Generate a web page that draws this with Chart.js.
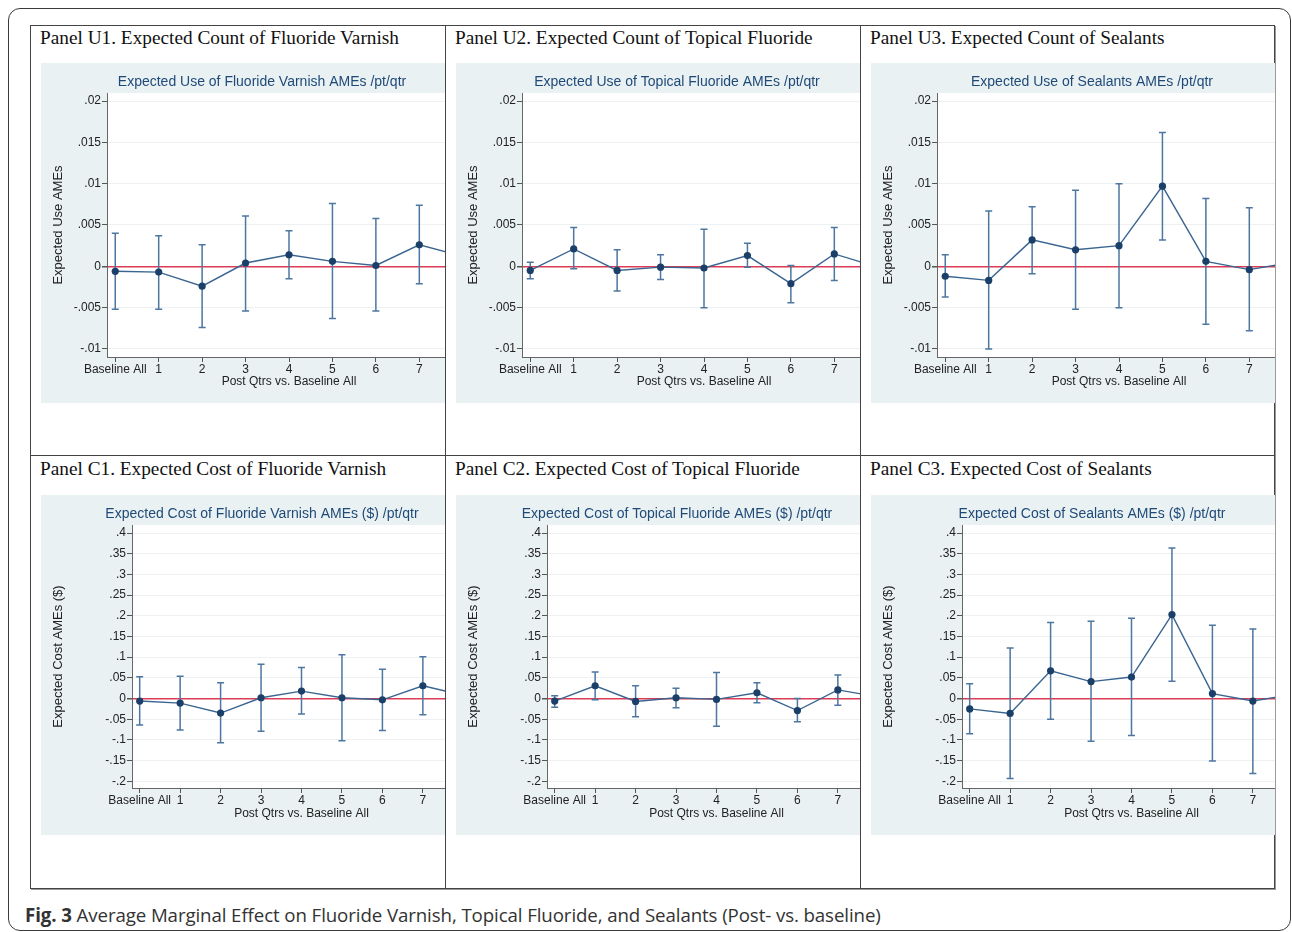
<!DOCTYPE html>
<html>
<head>
<meta charset="UTF-8">
<title>Fig. 3 Average Marginal Effect</title>
<script src="https://cdn.jsdelivr.net/npm/chart.js"></script>
<style>
  body { margin: 0; background: #fff; width: 1292px; height: 932px; overflow: hidden; position: relative; }
  .frame { position: absolute; left: 8px; top: 8px; width: 1283px; height: 923px; border: 1.5px solid #3a3a3a; border-radius: 12px; box-sizing: border-box; }
  .grid { position: absolute; left: 30px; top: 25px; width: 1245px; height: 864px; border: 1px solid #444; box-sizing: border-box; box-shadow: 1px 1px 0 #9a9a9a; }
  .vline { position: absolute; top: 25px; width: 1px; height: 864px; background: #444; }
  .hline { position: absolute; left: 30px; top: 455px; width: 1245px; height: 1px; background: #444; }
  .cell { position: absolute; overflow: hidden; width: 414px; }
  .cell h3 { position: absolute; left: 9px; top: 1px; margin: 0; font: normal 19.3px/22px "Liberation Serif", "Times New Roman", serif; color: #111; white-space: nowrap; }
  .cell canvas { position: absolute; left: 10px; }
  .caption { position: absolute; left: 25px; top: 903px; font: 18.7px/24px "Open Sans", sans-serif; color: #333; white-space: nowrap; letter-spacing: -0.1px; }
</style>
</head>
<body>
<div class="frame"></div>
<div class="grid"></div>
<div class="vline" style="left:445px"></div>
<div class="vline" style="left:860px"></div>
<div class="hline"></div>

<div class="cell" style="left:31px;top:26px;height:429px"><h3>Panel U1. Expected Count of Fluoride Varnish</h3><canvas id="u1" width="442" height="340" style="top:37px"></canvas></div>
<div class="cell" style="left:446px;top:26px;height:429px"><h3>Panel U2. Expected Count of Topical Fluoride</h3><canvas id="u2" width="442" height="340" style="top:37px"></canvas></div>
<div class="cell" style="left:861px;top:26px;height:429px"><h3>Panel U3. Expected Count of Sealants</h3><canvas id="u3" width="442" height="340" style="top:37px"></canvas></div>
<div class="cell" style="left:31px;top:457px;height:431px"><h3>Panel C1. Expected Cost of Fluoride Varnish</h3><canvas id="c1" width="442" height="340" style="top:38px"></canvas></div>
<div class="cell" style="left:446px;top:457px;height:431px"><h3>Panel C2. Expected Cost of Topical Fluoride</h3><canvas id="c2" width="442" height="340" style="top:38px"></canvas></div>
<div class="cell" style="left:861px;top:457px;height:431px"><h3>Panel C3. Expected Cost of Sealants</h3><canvas id="c3" width="442" height="340" style="top:38px"></canvas></div>

<div class="caption"><b>Fig. 3</b> Average Marginal Effect on Fluoride Varnish, Topical Fluoride, and Sealants (Post- vs. baseline)</div>

<script>
// x positions: Baseline All = 0, post quarters 1..8 (8 is cut off by the panel edge)
const xLabels = ['Baseline All', '1', '2', '3', '4', '5', '6', '7', '8'];
const useTicks = [-0.01, -0.005, 0, 0.005, 0.01, 0.015, 0.02];
const costTicks = [-0.2, -0.15, -0.1, -0.05, 0, 0.05, 0.1, 0.15, 0.2, 0.25, 0.3, 0.35, 0.4];

// expected use AMEs
const u1Est = [-0.0006, -0.0007, -0.0024, 0.0004, 0.0014, 0.0006, 0.0001, 0.0026, 0.0012];
const u1Lo  = [-0.0052, -0.0052, -0.0074, -0.0054, -0.0015, -0.0063, -0.0054, -0.0021, null];
const u1Hi  = [0.0040, 0.0037, 0.0026, 0.0061, 0.0043, 0.0076, 0.0058, 0.0074, null];

const u2Est = [-0.0005, 0.0021, -0.0005, -0.0001, -0.0002, 0.0013, -0.0021, 0.0015, -0.0001];
const u2Lo  = [-0.0015, -0.0003, -0.0030, -0.0016, -0.0050, -0.0001, -0.0044, -0.0017, null];
const u2Hi  = [0.0005, 0.0047, 0.0020, 0.0014, 0.0045, 0.0028, 0.0001, 0.0047, null];

const u3Est = [-0.0012, -0.0017, 0.0032, 0.0020, 0.0025, 0.0097, 0.0006, -0.0004, 0.0005];
const u3Lo  = [-0.0037, -0.0100, -0.0009, -0.0052, -0.0050, 0.0032, -0.0070, -0.0078, null];
const u3Hi  = [0.0014, 0.0067, 0.0072, 0.0092, 0.0100, 0.0162, 0.0082, 0.0071, null];

// expected cost AMEs ($)
const c1Est = [-0.006, -0.011, -0.035, 0.002, 0.018, 0.002, -0.003, 0.031, 0.008];
const c1Lo  = [-0.064, -0.076, -0.107, -0.079, -0.037, -0.102, -0.077, -0.039, null];
const c1Hi  = [0.053, 0.054, 0.038, 0.083, 0.075, 0.106, 0.071, 0.101, null];

const c2Est = [-0.006, 0.031, -0.007, 0.002, -0.002, 0.014, -0.029, 0.021, 0.004];
const c2Lo  = [-0.021, -0.003, -0.044, -0.022, -0.067, -0.010, -0.056, -0.016, null];
const c2Hi  = [0.007, 0.064, 0.031, 0.025, 0.063, 0.038, 0.000, 0.057, null];

const c3Est = [-0.025, -0.036, 0.067, 0.041, 0.052, 0.203, 0.012, -0.006, 0.010];
const c3Lo  = [-0.085, -0.193, -0.050, -0.103, -0.089, 0.042, -0.151, -0.181, null];
const c3Hi  = [0.036, 0.122, 0.184, 0.187, 0.194, 0.364, 0.177, 0.168, null];

const panels = [
  { id: 'u1', title: 'Expected Use of Fluoride Varnish AMEs /pt/qtr', yTitle: 'Expected Use AMEs', est: u1Est, lo: u1Lo, hi: u1Hi, ticks: useTicks, min: -0.01097, max: 0.02097, axisW: 54, axisH: 46 },
  { id: 'u2', title: 'Expected Use of Topical Fluoride AMEs /pt/qtr', yTitle: 'Expected Use AMEs', est: u2Est, lo: u2Lo, hi: u2Hi, ticks: useTicks, min: -0.01097, max: 0.02097, axisW: 54, axisH: 46 },
  { id: 'u3', title: 'Expected Use of Sealants AMEs /pt/qtr', yTitle: 'Expected Use AMEs', est: u3Est, lo: u3Lo, hi: u3Hi, ticks: useTicks, min: -0.01097, max: 0.02097, axisW: 54, axisH: 46 },
  { id: 'c1', title: 'Expected Cost of Fluoride Varnish AMEs ($) /pt/qtr', yTitle: 'Expected Cost AMEs ($)', est: c1Est, lo: c1Lo, hi: c1Hi, ticks: costTicks, min: -0.2161, max: 0.4194, axisW: 79, axisH: 47 },
  { id: 'c2', title: 'Expected Cost of Topical Fluoride AMEs ($) /pt/qtr', yTitle: 'Expected Cost AMEs ($)', est: c2Est, lo: c2Lo, hi: c2Hi, ticks: costTicks, min: -0.2161, max: 0.4194, axisW: 79, axisH: 47 },
  { id: 'c3', title: 'Expected Cost of Sealants AMEs ($) /pt/qtr', yTitle: 'Expected Cost AMEs ($)', est: c3Est, lo: c3Lo, hi: c3Hi, ticks: costTicks, min: -0.2161, max: 0.4194, axisW: 79, axisH: 47 }
];

Chart.defaults.font.family = '"Liberation Sans", Arial, sans-serif';

// stata-like tick label: .005, -.05, 0
function fmt(v) {
  if (v === 0) return '0';
  return String(+v.toPrecision(6)).replace('0.', '.');
}

// grey graph region, white plot region
const regionBg = {
  id: 'regionBg',
  beforeDraw(chart) {
    const { ctx, chartArea: a } = chart;
    ctx.save();
    ctx.fillStyle = '#eaf1f3';
    ctx.fillRect(0, 0, chart.width, chart.height);
    ctx.fillStyle = '#ffffff';
    ctx.fillRect(a.left, a.top, a.right - a.left, a.bottom - a.top);
    ctx.restore();
  }
};

// confidence interval caps drawn with the chart's own scales
function errorBars(lo, hi) {
  return {
    id: 'errorBars',
    beforeDatasetsDraw(chart) {
      const { ctx, chartArea: a, scales: { x, y } } = chart;
      ctx.save();
      ctx.beginPath();
      ctx.rect(a.left, a.top, a.right - a.left, a.bottom - a.top);
      ctx.clip();
      ctx.strokeStyle = '#4d76a0';
      ctx.lineWidth = 1.5;
      lo.forEach((l, i) => {
        const h = hi[i];
        if (l == null || h == null) return;
        const px = x.getPixelForValue(i);
        const p1 = y.getPixelForValue(l);
        const p2 = y.getPixelForValue(h);
        ctx.beginPath();
        ctx.moveTo(px, p1); ctx.lineTo(px, p2);
        ctx.moveTo(px - 3.5, p1); ctx.lineTo(px + 3.5, p1);
        ctx.moveTo(px - 3.5, p2); ctx.lineTo(px + 3.5, p2);
        ctx.stroke();
      });
      ctx.restore();
    }
  };
}

panels.forEach(p => {
  new Chart(document.getElementById(p.id), {
    type: 'line',
    data: {
      datasets: [{
        data: p.est.map((v, i) => ({ x: i, y: v })),
        borderColor: '#3a6590',
        borderWidth: 1.4,
        pointRadius: 3.6,
        pointBackgroundColor: '#1a3f68',
        pointBorderWidth: 0,
        tension: 0
      }]
    },
    options: {
      responsive: false,
      animation: false,
      // equal side padding keeps the chart title centred on the whole graph region
      layout: { padding: { left: 12, right: 12, top: 0, bottom: 0 } },
      plugins: {
        legend: { display: false },
        tooltip: { enabled: false },
        title: {
          display: true,
          text: p.title,
          color: '#1f4a78',
          font: { size: 14, weight: 'normal' },
          padding: { top: 11, bottom: 2.2 }
        }
      },
      scales: {
        x: {
          type: 'linear',
          min: -0.19,
          max: 8.19,
          afterBuildTicks: s => { s.ticks = xLabels.map((_, i) => ({ value: i })); },
          afterFit: s => { s.height = p.axisH; },
          ticks: { autoSkip: false, maxRotation: 0, padding: 0, color: '#222', font: { size: 12 }, callback: v => xLabels[v] },
          grid: { drawOnChartArea: false, tickLength: 5, tickColor: '#555' },
          border: { color: '#666', width: 1 },
          title: { display: true, text: 'Post Qtrs vs. Baseline All', color: '#222', font: { size: 12 }, padding: { top: 0, bottom: 14.6 } }
        },
        y: {
          min: p.min,
          max: p.max,
          afterBuildTicks: s => { s.ticks = p.ticks.map(v => ({ value: v })); },
          afterFit: s => { s.width = p.axisW; },
          ticks: { autoSkip: false, padding: 1, color: '#222', font: { size: 12 }, callback: v => fmt(v) },
          grid: {
            tickLength: 5,
            tickColor: '#555',
            color: c => c.tick && c.tick.value === 0 ? '#dc3c55' : '#edf1f2',
            lineWidth: c => c.tick && c.tick.value === 0 ? 1.5 : 1
          },
          border: { color: '#666', width: 1 },
          title: { display: true, text: p.yTitle, color: '#222', font: { size: 13 }, padding: { top: -2, bottom: 0 } }
        }
      }
    },
    plugins: [regionBg, errorBars(p.lo, p.hi)]
  });
});
</script>
</body>
</html>
